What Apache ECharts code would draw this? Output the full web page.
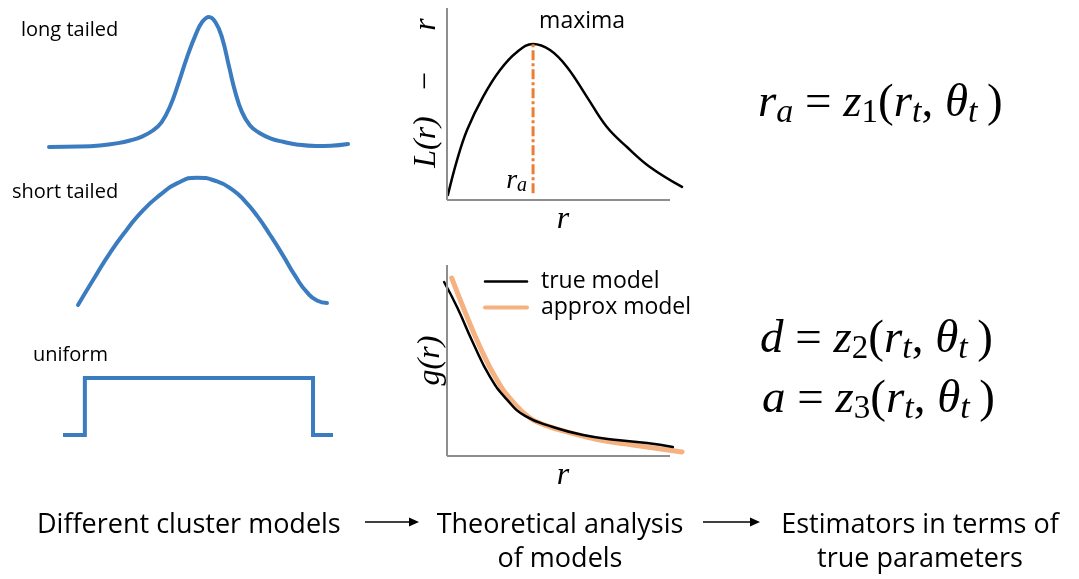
<!DOCTYPE html>
<html>
<head>
<meta charset="utf-8">
<script src="https://cdn.jsdelivr.net/npm/echarts@6/dist/echarts.min.js"></script>
<style>
  html, body { margin: 0; padding: 0; background: #fff; }
  #chart { width: 1079px; height: 579px; }
</style>
</head>
<body>
<div id="chart"></div>
<script>
// ---- cluster profile shapes (x: 0..10, height: 0..1) ----
const longTailed = [
  [0, 0.0], [1.0, 0.003], [1.7, 0.012], [2.3, 0.03], [2.7, 0.05], [3.1, 0.08],
  [3.45, 0.125], [3.75, 0.19], [4.03, 0.31], [4.3, 0.48], [4.6, 0.69], [4.9, 0.87],
  [5.1, 0.96], [5.33, 1.0], [5.55, 0.96], [5.77, 0.84], [6.0, 0.62], [6.2, 0.43],
  [6.43, 0.27], [6.7, 0.165], [7.0, 0.11], [7.4, 0.065], [7.8, 0.04], [8.3, 0.018],
  [8.9, 0.008], [9.4, 0.01], [9.97, 0.023]
];
const shortTailed = [
  [0.04, 0.0], [0.64, 0.195], [1.31, 0.406], [1.99, 0.59], [2.63, 0.74], [3.31, 0.86],
  [3.98, 0.95], [4.78, 0.995], [5.58, 0.965], [6.2, 0.9], [6.7, 0.81], [7.2, 0.69],
  [7.7, 0.545], [8.2, 0.39], [8.7, 0.225], [9.16, 0.10], [9.56, 0.035], [9.96, 0.016]
];
const uniform = [[0, 0], [0.81, 0], [0.81, 1], [9.26, 1], [9.26, 0], [10, 0]];

// ---- L(r) - r against r ----
const likelihood = [
  [0.04, 0.26], [0.45, 2.08], [0.9, 3.65], [1.61, 5.36], [2.38, 6.77], [3.14, 7.71],
  [3.86, 8.13], [4.62, 7.81], [5.38, 6.93], [6.28, 5.36], [7.17, 3.80], [8.07, 2.76],
  [9.10, 1.72], [10.54, 0.68]
];

// ---- g(r) against r ----
const trueModel = [
  [-0.13, 9.11], [0.45, 7.80], [1.17, 5.92], [1.93, 4.14], [2.69, 2.95], [3.5, 2.1],
  [4.75, 1.52], [6.10, 1.10], [7.62, 0.84], [8.97, 0.68], [10.13, 0.47]
];
const approxModel = [
  [0.21, 9.32], [0.72, 7.80], [1.48, 5.71], [2.24, 3.98], [2.96, 2.83], [3.72, 1.99],
  [4.39, 1.62], [5.38, 1.26], [6.86, 0.84], [8.34, 0.58], [10.54, 0.21]
];

// axis extents of the two small plots
const rRange = [0, 10];
const valueRange = [0, 10];

const legendNames = ['true model', 'approx model'];
const modelLabels = ['long tailed', 'short tailed', 'uniform'];
const captions = ['Different cluster models', 'Theoretical analysis\nof models', 'Estimators in terms of\ntrue parameters'];

// peak of L(r) - r gives r_a
const peak = likelihood.reduce((a, b) => (b[1] > a[1] ? b : a));
const rA = peak[0];

const BLUE = '#3b7cc1';
const ORANGE = '#ed7d31';
const LIGHT_ORANGE = '#f5b17f';
const AXIS = '#8e8e8e';
const SANS = '"Open Sans", "Noto Sans", sans-serif';
const SERIF = '"Liberation Serif", "DejaVu Serif", serif';

// the plots leave a little room past the axis ends so the curves can run over them
const PAD_LO = 0.2, PAD_HI = 0.6, PX_PER_R = 22.3;
const plotLeft = 447 - PAD_LO * PX_PER_R;
const plotWidth = (rRange[1] - rRange[0] + PAD_LO + PAD_HI) * PX_PER_R;

const grids = [
  { left: 49, top: 17, width: 300, height: 130 },
  { left: 77, top: 177, width: 251, height: 128 },
  { left: 63, top: 378, width: 270, height: 57 },
  { left: plotLeft, top: 8, width: plotWidth, height: 192 },
  { left: plotLeft, top: 265, width: plotWidth, height: 191 }
];

const mathName = { fontFamily: SERIF, fontStyle: 'italic', fontSize: 32, color: '#000' };

function hiddenAxes(i) {
  return {
    x: { gridIndex: i, type: 'value', min: 0, max: 10, show: false },
    y: { gridIndex: i, type: 'value', min: 0, max: 1, show: false }
  };
}
function plotAxes(i, yName, yGap, yPad) {
  const bare = { axisLine: { show: false, onZero: false }, axisTick: { show: false }, axisLabel: { show: false }, splitLine: { show: false } };
  return {
    x: Object.assign({
      gridIndex: i, type: 'value', min: rRange[0] - PAD_LO, max: rRange[1] + PAD_HI,
      name: 'r', nameLocation: 'middle', nameGap: 4, nameTextStyle: mathName
    }, bare),
    y: Object.assign({
      gridIndex: i, type: 'value', min: valueRange[0], max: valueRange[1],
      name: yName, nameLocation: 'middle', nameRotate: 90, nameGap: yGap,
      nameTextStyle: Object.assign({ padding: [0, 0, 0, yPad] }, mathName)
    }, bare)
  };
}

const axes = [hiddenAxes(0), hiddenAxes(1), hiddenAxes(2),
  plotAxes(3, 'L(r)   −     r', 0, 22), plotAxes(4, 'g(r)', -4, 0)];

// grey axis lines of a plot, drawn in data space from the axis extents
function axisLines() {
  return {
    silent: true, symbol: 'none', animation: false,
    lineStyle: { color: AXIS, width: 2, type: 'solid' },
    label: { show: false },
    emphasis: { disabled: true },
    data: [
      [{ coord: [rRange[0], valueRange[0]] }, { coord: [rRange[1], valueRange[0]] }],
      [{ coord: [rRange[0], valueRange[0]] }, { coord: [rRange[0], valueRange[1]] }]
    ]
  };
}

function curve(i, data, color, width, extra) {
  return Object.assign({
    type: 'line', xAxisIndex: i, yAxisIndex: i, data: data, symbol: 'none',
    smooth: 0.45, clip: false, silent: true, animation: false,
    lineStyle: { color: color, width: width, cap: 'round', join: 'round' },
    itemStyle: { color: color }
  }, extra || {});
}

const FS = 47;
const subRich = {
  i: { fontFamily: SERIF, fontStyle: 'italic', fontSize: FS, lineHeight: 52, color: '#000' },
  n: { fontFamily: SERIF, fontSize: FS, lineHeight: 52, color: '#000' },
  s: { fontFamily: SERIF, fontStyle: 'italic', fontSize: 34, lineHeight: 30, verticalAlign: 'bottom', color: '#000' },
  d: { fontFamily: SERIF, fontSize: 33, lineHeight: 30, verticalAlign: 'bottom', color: '#000' }
};

function formula(lhs, lhsSub, idx, x, y) {
  const head = lhsSub ? `{i|${lhs}}{s|${lhsSub}}` : `{i|${lhs}}`;
  return {
    type: 'text', x: x, y: y,
    style: {
      text: `${head}{n| = }{i|z}{d|${idx}}{n|(}{i|r}{s|t}{n|, }{i|θ}{s|t}{n|\u2009)}`,
      rich: subRich, verticalAlign: 'middle', align: 'left'
    }
  };
}

function arrow(x1, x2, y) {
  return {
    type: 'group', children: [
      { type: 'line', shape: { x1: x1, y1: y, x2: x2 - 8, y2: y }, style: { stroke: '#000', lineWidth: 1.5 } },
      { type: 'polygon', shape: { points: [[x2 - 10, y - 4.5], [x2, y], [x2 - 10, y + 4.5]] }, style: { fill: '#000' } }
    ]
  };
}

const labelStyle = { fontFamily: SANS, fontSize: 20, fill: '#000' };
const captionStyle = { fontFamily: SANS, fontSize: 27, lineHeight: 34, fill: '#000' };

const option = {
  backgroundColor: '#fff',
  animation: false,
  grid: grids,
  xAxis: axes.map(a => a.x),
  yAxis: axes.map(a => a.y),
  legend: {
    data: [
      { name: legendNames[0], itemStyle: { opacity: 0 }, lineStyle: { color: '#000', width: 2.5 } },
      { name: legendNames[1], itemStyle: { opacity: 0 }, lineStyle: { color: LIGHT_ORANGE, width: 4 } }
    ],
    left: 483, top: 270, orient: 'vertical', padding: 0,
    itemWidth: 42, itemHeight: 14, itemGap: 3, selectedMode: false,
    textStyle: { fontFamily: SANS, fontSize: 23, color: '#000', padding: [0, 0, 0, 9] }
  },
  series: [
    curve(0, longTailed, BLUE, 4),
    curve(1, shortTailed, BLUE, 4, { smooth: 0.55 }),
    curve(2, uniform, BLUE, 4, { smooth: false, lineStyle: { color: BLUE, width: 4, cap: 'butt', join: 'miter' } }),
    curve(3, likelihood, '#000', 2.5, { smooth: 0.4, markLine: axisLines() }),
    {
      type: 'line', xAxisIndex: 3, yAxisIndex: 3, symbol: 'none', silent: true, animation: false,
      data: [[rA, 0.35], [rA, peak[1]]],
      lineStyle: { color: ORANGE, width: 3, type: [10, 3, 3, 3] },
      markPoint: {
        symbol: 'circle', symbolSize: 0, silent: true,
        data: [
          {
            coord: [rA, 0.35],
            label: {
              show: true, position: 'left', distance: 6, offset: [0, -13],
              formatter: '{i|r}{s|a}',
              rich: {
                i: { fontFamily: SERIF, fontStyle: 'italic', fontSize: 28, lineHeight: 30, color: '#000' },
                s: { fontFamily: SERIF, fontStyle: 'italic', fontSize: 20, lineHeight: 18, verticalAlign: 'bottom', color: '#000' }
              }
            }
          },
          {
            coord: [rA, peak[1]],
            label: {
              show: true, position: 'top', distance: 6, offset: [49, -5],
              formatter: 'maxima', fontFamily: SANS, fontSize: 23, color: '#000'
            }
          }
        ]
      }
    },
    curve(4, approxModel, LIGHT_ORANGE, 5, { smooth: 0.5, name: legendNames[1], markLine: axisLines() }),
    curve(4, trueModel, '#000', 2.5, { smooth: 0.5, name: legendNames[0] })
  ],
  graphic: [
    { type: 'text', x: 21, y: 30, style: Object.assign({ text: modelLabels[0], verticalAlign: 'middle' }, labelStyle) },
    { type: 'text', x: 12, y: 192, style: Object.assign({ text: modelLabels[1], verticalAlign: 'middle' }, labelStyle) },
    { type: 'text', x: 33, y: 355, style: Object.assign({ text: modelLabels[2], verticalAlign: 'middle' }, labelStyle) },
    formula('r', 'a', 1, 758, 104),
    formula('d', '', 2, 760, 340),
    formula('a', '', 3, 762, 400),
    { type: 'text', x: 37, y: 525, style: Object.assign({ text: captions[0], verticalAlign: 'middle' }, captionStyle) },
    { type: 'text', x: 560, y: 508, style: Object.assign({ text: captions[1], align: 'center', verticalAlign: 'top' }, captionStyle) },
    { type: 'text', x: 920, y: 508, style: Object.assign({ text: captions[2], align: 'center', verticalAlign: 'top' }, captionStyle) },
    arrow(365, 419, 522),
    arrow(703, 760, 522)
  ]
};

const chart = echarts.init(document.getElementById('chart'), null, { renderer: 'canvas' });
chart.setOption(option);
</script>
</body>
</html>
